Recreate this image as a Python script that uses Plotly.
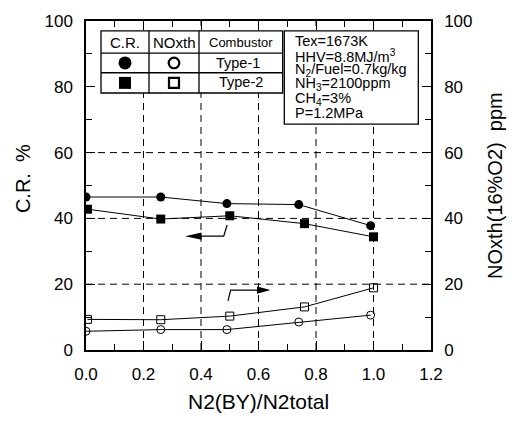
import plotly.graph_objects as go

# ---------------- data ----------------
x_type1 = [0.0, 0.26, 0.49, 0.74, 0.99]
cr_type1 = [46.5, 46.5, 44.5, 44.2, 37.8]
nox_type1 = [5.7, 6.2, 6.2, 8.5, 10.6]

x_type2 = [0.005, 0.26, 0.50, 0.76, 1.0]
cr_type2 = [42.8, 39.8, 40.8, 38.4, 34.4]
nox_type2 = [9.3, 9.2, 10.3, 13.1, 18.9]

x_ticks = [0.0, 0.2, 0.4, 0.6, 0.8, 1.0, 1.2]
y_ticks = [0, 20, 40, 60, 80, 100]

conditions = ["Tex=1673K", "HHV=8.8MJ/m<sup>3</sup>", "N<sub>2</sub>/Fuel=0.7kg/kg",
              "NH<sub>3</sub>=2100ppm", "CH<sub>4</sub>=3%", "P=1.2MPa"]

FONT = "Liberation Sans, Arial, sans-serif"

# plot area in pixels
L, R, T, B = 86, 431, 15, 350
W, H = 512, 423


def px(p):
    return (p - L) / (R - L)


def py(p):
    return (B - p) / (B - T)


fig = go.Figure()

line_style = dict(color="black", width=1)
fig.add_trace(go.Scatter(x=x_type1, y=cr_type1, mode="lines+markers", line=line_style,
                         marker=dict(symbol="circle", size=9, color="black")))
fig.add_trace(go.Scatter(x=x_type2, y=cr_type2, mode="lines+markers", line=line_style,
                         marker=dict(symbol="square", size=9, color="black")))
fig.add_trace(go.Scatter(x=x_type1, y=nox_type1, mode="lines+markers", line=line_style,
                         yaxis="y2",
                         marker=dict(symbol="circle-open", size=8, color="black",
                                     line=dict(width=1, color="black"))))
fig.add_trace(go.Scatter(x=x_type2, y=nox_type2, mode="lines+markers", line=line_style,
                         yaxis="y2",
                         marker=dict(symbol="square-open", size=8, color="black",
                                     line=dict(width=1, color="black"))))

shapes = []
grid = dict(color="black", width=1, dash="7px,5px")
for xv in x_ticks[1:-1]:
    shapes.append(dict(type="line", xref="x", yref="paper", x0=xv, x1=xv, y0=0, y1=1,
                       line=grid, layer="below"))
for yv in y_ticks[1:-2]:
    shapes.append(dict(type="line", xref="paper", yref="y", x0=0, x1=1, y0=yv, y1=yv,
                       line=grid, layer="below"))

# legend table
tl, tr, tt, tb = 101, 282.7, 25, 88.3
box = dict(color="black", width=1.3)
shapes.append(dict(type="rect", xref="paper", yref="paper", x0=px(tl), x1=px(tr),
                   y0=py(tb), y1=py(tt), line=box, fillcolor="white", layer="below"))
for rp in (47.7, 67.7):
    shapes.append(dict(type="line", xref="paper", yref="paper", x0=px(tl), x1=px(tr),
                       y0=py(rp), y1=py(rp), line=box, layer="below"))
for cp in (149, 199):
    shapes.append(dict(type="line", xref="paper", yref="paper", x0=px(cp), x1=px(cp),
                       y0=py(tb), y1=py(tt), line=box, layer="below"))
# conditions box
shapes.append(dict(type="rect", xref="paper", yref="paper", x0=px(284.3), x1=px(418.3),
                   y0=py(120), y1=py(25), line=box, fillcolor="white", layer="below"))


def sym(kind, cx, cy, r, filled, lw=0):
    return dict(type=kind, xref="paper", yref="paper", xsizemode="pixel", ysizemode="pixel",
                xanchor=px(cx), yanchor=py(cy), x0=-r, x1=r, y0=-r, y1=r,
                fillcolor="black" if filled else "white",
                line=dict(color="black", width=lw), layer="above")


shapes.append(sym("circle", 125, 57.7, 6.5, True, 0))
shapes.append(sym("circle", 174, 57.7, 5.3, False, 2.2))
shapes.append(sym("rect", 125, 78, 6, True, 0))
shapes.append(sym("rect", 174, 78, 5, False, 2.2))

# arrows (guide lines)
arr = dict(color="black", width=1.2)
shapes.append(dict(type="path", xref="x", yref="y",
                   path="M 0.491 38.0 L 0.479 34.6 L 0.39 34.6", line=arr))
shapes.append(dict(type="path", xref="x", yref="y", fillcolor="black",
                   path="M 0.345 34.6 L 0.402 35.7 L 0.402 33.5 Z", line=dict(width=0)))
shapes.append(dict(type="path", xref="x", yref="y",
                   path="M 0.494 14.9 L 0.503 18.2 L 0.60 18.2", line=arr))
shapes.append(dict(type="path", xref="x", yref="y", fillcolor="black",
                   path="M 0.642 18.2 L 0.595 19.3 L 0.595 17.1 Z", line=dict(width=0)))

annotations = []


def txt(text, x, y, size, xanchor="center", angle=0):
    annotations.append(dict(text=text, xref="paper", yref="paper", x=px(x), y=py(y),
                            xanchor=xanchor, yanchor="middle", showarrow=False,
                            textangle=angle, borderpad=0,
                            font=dict(family=FONT, size=size, color="black")))


txt("C.R.", 125, 36.7, 15)
txt("NOxth", 174, 36.7, 15)
txt("Combustor", 241, 36.7, 13)
txt("Type-1", 238, 57.5, 14.5)
txt("Type-2", 241, 77.5, 14.5)

for line_text, yy in zip(conditions, (35, 50.5, 65, 79.3, 94.3, 108.3)):
    txt(line_text, 294, yy, 14.5, xanchor="left")

# axis titles
txt("N2(BY)/N2total", 258, 402, 21)
txt("C.R.\u00a0\u00a0%", 23, 176, 20, angle=-90)
txt("NOxth(16%O2)\u00a0\u00a0ppm", 495, 182, 20, angle=-90)

axis_common = dict(showline=True, linecolor="black", linewidth=1.5, ticks="inside",
                   ticklen=9, tickwidth=1.2, tickcolor="black", showgrid=False,
                   zeroline=False, tickfont=dict(family=FONT, size=17, color="black"),
                   minor=dict(ticks="inside", ticklen=6, tickwidth=1.2, tickcolor="black"))

fig.update_layout(
    width=W, height=H,
    margin=dict(l=L, r=W - R, t=T, b=H - B),
    paper_bgcolor="white", plot_bgcolor="white",
    showlegend=False,
    xaxis=dict(range=[0, 1.2], tickvals=x_ticks, ticktext=[f"{v:.1f}" for v in x_ticks],
               mirror="ticks", minor_dtick=0.1, ticklabelstandoff=8, **axis_common),
    yaxis=dict(range=[0, 100], tickvals=y_ticks, mirror="ticks", minor_dtick=10,
               ticklabelstandoff=8, **axis_common),
    yaxis2=dict(range=[0, 100], tickvals=y_ticks, overlaying="y", side="right",
                minor_dtick=10, ticklabelstandoff=8, **axis_common),
    shapes=shapes, annotations=annotations,
)

fig.write_html("out.html")
